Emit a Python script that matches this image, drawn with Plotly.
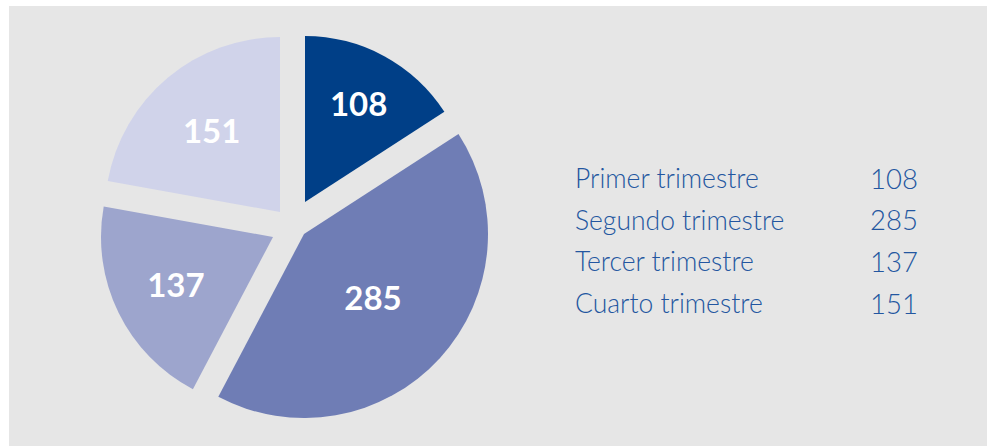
import plotly.graph_objects as go

labels = ["Primer trimestre", "Segundo trimestre", "Tercer trimestre", "Cuarto trimestre"]
values = [108, 285, 137, 151]
colors = ["#003f87", "#6f7db5", "#9da5cd", "#d0d3ea"]

W, H = 987, 446
# per-slice placement (pixel apex of each exploded slice, radius)
slice_pos = [(305, 202, 166), (304, 234, 184), (273, 237, 172), (280, 212, 175)]

fig = go.Figure()
for k, (vx, vy, r) in enumerate(slice_pos):
    fig.add_trace(go.Pie(
        values=values,
        labels=labels,
        sort=False,
        direction="clockwise",
        rotation=0,
        marker=dict(colors=[colors[j] if j == k else "rgba(0,0,0,0)" for j in range(len(values))],
                    line=dict(width=0)),
        texttemplate=["%{value}" if j == k else "" for j in range(len(values))],
        textposition="inside",
        insidetextorientation="horizontal",
        textfont=dict(family="Lato", size=33, color="white", weight="bold"),
        hoverinfo="skip",
        showlegend=False,
        domain=dict(x=[(vx - r) / W, (vx + r) / W], y=[1 - (vy + r) / H, 1 - (vy - r) / H]),
    ))

shapes = [dict(type="rect", xref="paper", yref="paper", x0=9 / W, x1=1, y0=0, y1=1 - 6 / H,
               fillcolor="#e6e6e6", line=dict(width=0), layer="below")]

annotations = []
row_y0, row_step = 178, 41.7
for i, (lab, v) in enumerate(zip(labels, values)):
    y = 1 - (row_y0 + i * row_step) / H
    annotations.append(dict(x=573 / W, y=y, xref="paper", yref="paper", text=lab, showarrow=False,
                            xanchor="left", yanchor="middle",
                            font=dict(family="Lato", size=26.5, color="#2356a0", weight=300)))
    annotations.append(dict(x=920 / W, y=y, xref="paper", yref="paper", text=str(v), showarrow=False,
                            xanchor="right", yanchor="middle",
                            font=dict(family="Lato", size=27.5, color="#2356a0", weight=300)))

fig.update_layout(width=W, height=H, margin=dict(l=0, r=0, t=0, b=0),
                  paper_bgcolor="white", plot_bgcolor="white",
                  shapes=shapes, annotations=annotations)
fig.write_html("out.html", config={"displayModeBar": False},
               post_script="document.body.style.margin='0';document.body.style.overflow='hidden';")
